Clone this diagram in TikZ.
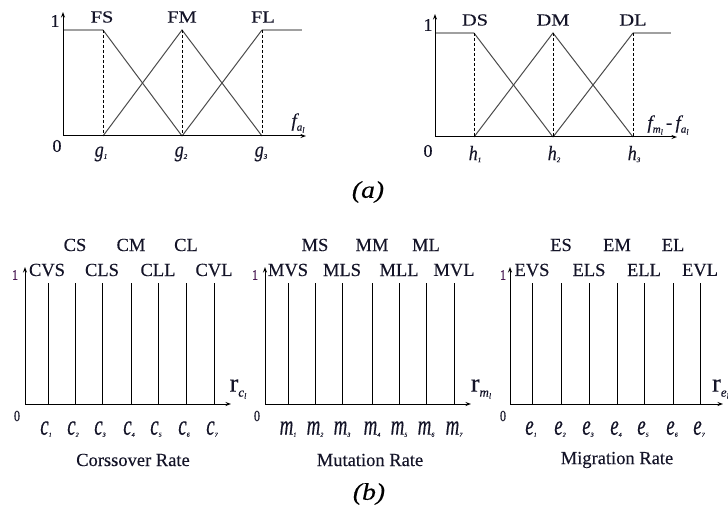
\documentclass[tikz,border=0pt]{standalone}
\usepackage{fontspec}
\setmainfont{Liberation Serif}[FakeBold=0.25]
\usetikzlibrary{arrows.meta}
\definecolor{ink}{RGB}{20,20,40}
\definecolor{onecol}{RGB}{70,20,80}
\definecolor{flatgray}{RGB}{160,160,160}
\definecolor{diaggray}{RGB}{75,75,75}
\newcommand{\fs}[1]{\fontsize{#1}{#1}\selectfont}
\newcommand{\sx}[2]{\scalebox{#1}[1]{#2}}
\newcommand{\sy}[2]{\scalebox{1}[#1]{#2}}
\begin{document}
\begin{tikzpicture}[x=1pt,y=-1pt,
  axis/.style={line width=1pt,-{Stealth[length=5.5pt,width=4pt]}},
  diag/.style={line width=1pt,draw=diaggray},
  flat/.style={line width=1.4pt,draw=flatgray},
  guide/.style={line width=0.9pt,dash pattern=on 3pt off 2pt},
  vline/.style={line width=1pt},
  toplab/.style={inner sep=0pt,text=ink,font=\fs{17}},
  botlab/.style={inner sep=0pt,text=ink,font=\fs{18.5}},
  numlab/.style={inner sep=0pt,text=ink,font=\fs{18}},
  smallnum/.style={inner sep=0pt,text=ink,font=\fs{12}},
  sublab/.style={inner sep=0pt,text=ink},
  caption/.style={inner sep=0pt,text=black,font=\fs{24}\itshape}
]
\clip (0,0) rectangle (728,513);
\fill[white] (0,0) rectangle (728,513);

% ================= (a) left =================
\coordinate (LO) at (63,136);
\coordinate (LY) at (63,12);
\coordinate (LX) at (306,136);
\coordinate (L0) at (63,30);
\coordinate (Lg1) at (103,136);
\coordinate (Lg2) at (182,136);
\coordinate (Lg3) at (262,136);
\coordinate (Lt1) at (103,30);
\coordinate (Lt2) at (182,30);
\coordinate (Lt3) at (262,30);
\coordinate (Lend) at (302,30);
\draw[flat] (L0) -- (Lt1);
\draw[flat] (Lt3) -- (Lend);
\draw[diag] (Lt1) -- (Lg2);
\draw[diag] (Lg1) -- (Lt2) -- (Lg3);
\draw[diag] (Lg2) -- (Lt3);
\draw[guide] (Lt1) -- (Lg1);
\draw[guide] (Lt2) -- (Lg2);
\draw[guide] (Lt3) -- (Lg3);
\draw[axis] (LO) -- (LY);
\draw[axis] (LO) -- (LX);
\node[toplab] (FS) at (102,17) {\sx{1.2}{FS}};
\node[toplab] (FM) at (182,17) {\sx{1.2}{FM}};
\node[toplab] (FL) at (263,17) {\sx{1.2}{FL}};
\node[numlab] (Lone) at (55,21) {1};
\node[numlab] (Lzero) at (57,146) {0};
\node[sublab] (g1) at (101,154) {\sy{1.2}{\fs{18}\itshape g}\raisebox{-2pt}{\fs{7}\itshape 1}};
\node[sublab] (g2) at (181,154) {\sy{1.2}{\fs{18}\itshape g}\raisebox{-2pt}{\fs{7}\itshape 2}};
\node[sublab] (g3) at (261,154) {\sy{1.2}{\fs{18}\itshape g}\raisebox{-2pt}{\fs{7}\itshape 3}};
\node[sublab] (fa) at (298,123) {\fs{19}\itshape f\raisebox{-4pt}{\fs{11}a\raisebox{-2pt}{\fs{8}l}}};

% ================= (a) right =================
\coordinate (RO) at (435,137);
\coordinate (RY) at (435,14);
\coordinate (RX) at (677,137);
\coordinate (R0) at (435,33);
\coordinate (Rh1) at (474,137);
\coordinate (Rh2) at (553,137);
\coordinate (Rh3) at (633,137);
\coordinate (Rt1) at (474,33);
\coordinate (Rt2) at (553,33);
\coordinate (Rt3) at (633,33);
\coordinate (Rend) at (671,33);
\draw[flat] (R0) -- (Rt1);
\draw[flat] (Rt3) -- (Rend);
\draw[diag] (Rt1) -- (Rh2);
\draw[diag] (Rh1) -- (Rt2) -- (Rh3);
\draw[diag] (Rh2) -- (Rt3);
\draw[guide] (Rt1) -- (Rh1);
\draw[guide] (Rt2) -- (Rh2);
\draw[guide] (Rt3) -- (Rh3);
\draw[axis] (RO) -- (RY);
\draw[axis] (RO) -- (RX);
\node[toplab] (DS) at (475,20) {\sx{1.2}{DS}};
\node[toplab] (DM) at (553,20) {\sx{1.2}{DM}};
\node[toplab] (DL) at (633,20) {\sx{1.2}{DL}};
\node[numlab] (Rone) at (428,25) {1};
\node[numlab] (Rzero) at (428,151) {0};
\node[sublab] (h1) at (475,154) {\sy{1.15}{\fs{18}\itshape h}\raisebox{-2pt}{\fs{7}\itshape 1}};
\node[sublab] (h2) at (554,154) {\sy{1.15}{\fs{18}\itshape h}\raisebox{-2pt}{\fs{7}\itshape 2}};
\node[sublab] (h3) at (634,154) {\sy{1.15}{\fs{18}\itshape h}\raisebox{-2pt}{\fs{7}\itshape 3}};
\node[sublab] (fmfa) at (668,125) {\fs{19}\itshape f\raisebox{-4pt}{\fs{11}m\raisebox{-2pt}{\fs{8}l}}\,\upshape -\,\itshape f\raisebox{-4pt}{\fs{11}a\raisebox{-2pt}{\fs{8}l}}};

\node[caption] (capa) at (368,192) {\sx{1.15}{(a)}};

% ================= (b) crossover =================
\coordinate (CO) at (25,404);
\coordinate (CY) at (25,267);
\coordinate (CX) at (231,404);
\foreach \i/\x in {1/48,2/75,3/102,4/131,5/158,6/186,7/214}{
  \coordinate (Ct\i) at (\x,283);
  \coordinate (Cb\i) at (\x,404);
  \draw[vline] (Ct\i) -- (Cb\i);
  \node[sublab] (c\i) at (\x-2,429) {\sy{1.5}{\fs{19}\itshape c}\raisebox{-2pt}{\fs{6}\itshape \i}};
}
\draw[axis] (CO) -- (CY);
\draw[axis] (CO) -- (CX);
\node[botlab] (CVS) at (47,270) {CVS};
\node[botlab] (CLS) at (102,270) {CLS};
\node[botlab] (CLL) at (158,270) {CLL};
\node[botlab] (CVL) at (214,270) {CVL};
\node[botlab] (CS) at (75,245) {CS};
\node[botlab] (CM) at (131,245) {CM};
\node[botlab] (CL) at (186,245) {CL};
\node[smallnum,text=onecol] (Cone) at (15,275) {\sy{1.2}{1}};
\node[smallnum] (Czero) at (17,416) {\sy{1.3}{0}};
\node[sublab] (rc) at (238,389) {\fs{26}r\raisebox{-5pt}{\fs{13}\itshape c\raisebox{-2pt}{\fs{8}l}}};
\node[botlab] (crate) at (133,460) {Corssover Rate};

% ================= (b) mutation =================
\coordinate (MO) at (265,404);
\coordinate (MY) at (265,267);
\coordinate (MX) at (471,404);
\foreach \i/\x in {1/288,2/315,3/342,4/372,5/399,6/426,7/454}{
  \coordinate (Mt\i) at (\x,283);
  \coordinate (Mb\i) at (\x,404);
  \draw[vline] (Mt\i) -- (Mb\i);
  \node[sublab] (m\i) at (\x,429) {\sy{1.5}{\fs{19}\itshape m}\raisebox{-2pt}{\fs{6}\itshape \i}};
}
\draw[axis] (MO) -- (MY);
\draw[axis] (MO) -- (MX);
\node[botlab] (MVS) at (288,270) {MVS};
\node[botlab] (MLS) at (342,270) {MLS};
\node[botlab] (MLL) at (399,270) {MLL};
\node[botlab] (MVL) at (454,270) {MVL};
\node[botlab] (MS) at (315,245) {MS};
\node[botlab] (MM) at (372,245) {MM};
\node[botlab] (ML) at (426,245) {ML};
\node[smallnum,text=onecol] (Mone) at (255,275) {\sy{1.2}{1}};
\node[smallnum] (Mzero) at (257,416) {\sy{1.3}{0}};
\node[sublab] (rm) at (481,389) {\fs{26}r\raisebox{-5pt}{\fs{13}\itshape m\raisebox{-2pt}{\fs{8}l}}};
\node[botlab] (mrate) at (370,460) {Mutation Rate};

% ================= (b) migration =================
\coordinate (EO) at (510,404);
\coordinate (EY) at (510,267);
\coordinate (EX) at (723,404);
\foreach \i/\x in {1/532,2/561,3/589,4/617,5/644,6/673,7/700}{
  \coordinate (Et\i) at (\x,283);
  \coordinate (Eb\i) at (\x,404);
  \draw[vline] (Et\i) -- (Eb\i);
  \node[sublab] (e\i) at (\x-1,429) {\sy{1.5}{\fs{19}\itshape e}\raisebox{-2pt}{\fs{6}\itshape \i}};
}
\draw[axis] (EO) -- (EY);
\draw[axis] (EO) -- (EX);
\node[botlab] (EVS) at (532,270) {EVS};
\node[botlab] (ELS) at (589,270) {ELS};
\node[botlab] (ELL) at (644,270) {ELL};
\node[botlab] (EVL) at (700,270) {EVL};
\node[botlab] (ES) at (561,245) {ES};
\node[botlab] (EM) at (617,245) {EM};
\node[botlab] (EL) at (673,245) {EL};
\node[smallnum,text=onecol] (Eone) at (503,275) {\sy{1.2}{1}};
\node[smallnum] (Ezero) at (503,416) {\sy{1.3}{0}};
\node[sublab,anchor=west] (re) at (712,389) {\fs{26}r\raisebox{-5pt}{\fs{13}\itshape e\raisebox{-2pt}{\fs{8}l}}};
\node[botlab] (erate) at (617,460) {Migration Rate};

\node[caption] (capb) at (369,494) {\sx{1.15}{(b)}};
\end{tikzpicture}
\end{document}
